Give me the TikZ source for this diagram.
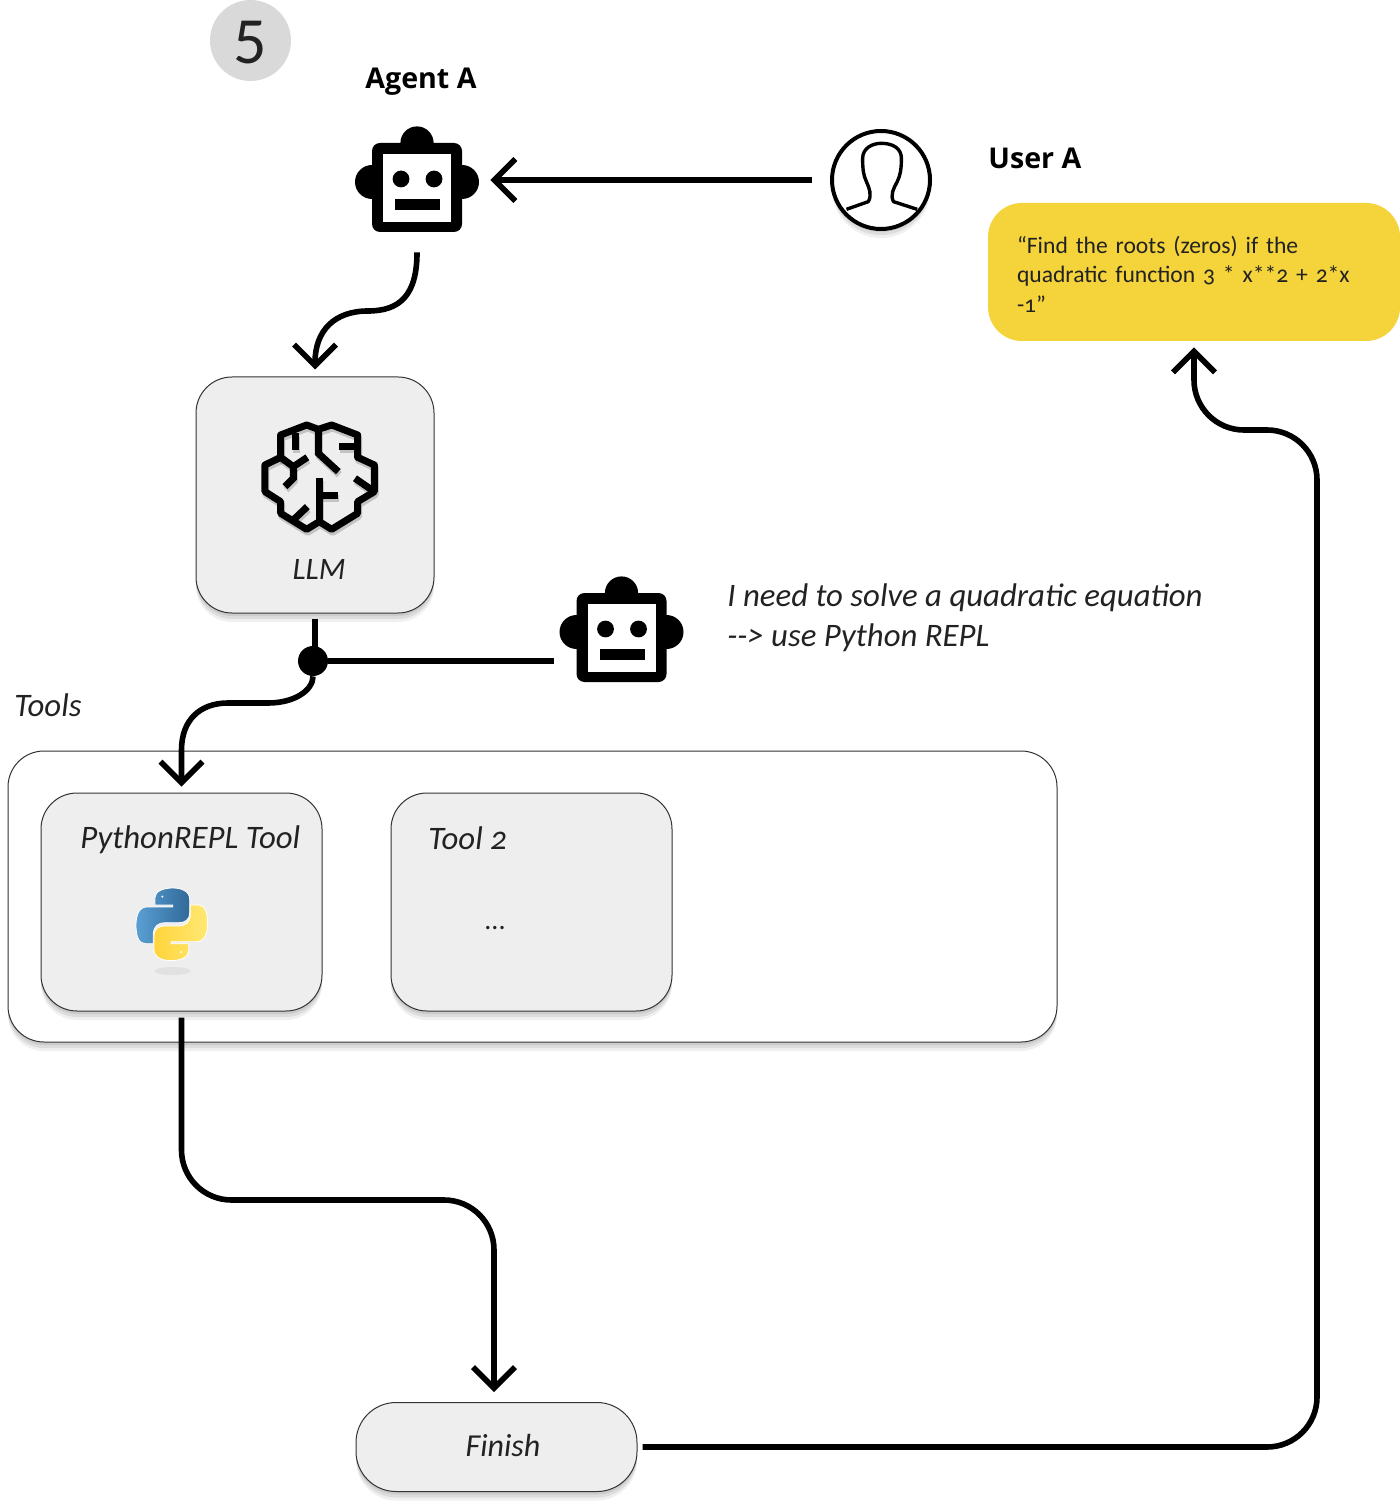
\documentclass[tikz,border=0pt]{standalone}
\usepackage{fontspec}
\setmainfont[Numbers=OldStyle]{Carlito}
\newfontfamily\headfont{Open Sans}
\usetikzlibrary{arrows.meta,shadows}
\definecolor{boxgray}{HTML}{EEEEEE}
\definecolor{badgegray}{HTML}{D9D9D9}
\definecolor{noteyellow}{HTML}{F4D33B}
\definecolor{lightink}{HTML}{222222}
\definecolor{pyblueA}{HTML}{5A9FD4}
\definecolor{pyblueB}{HTML}{306998}
\definecolor{pyyellowA}{HTML}{FFD43B}
\definecolor{pyyellowB}{HTML}{FFE873}
\tikzset{
    softshadow/.style={general shadow={fill=black,opacity=.08,shadow yshift=-1.5pt},general shadow={fill=black,opacity=.08,shadow yshift=-3pt},general shadow={fill=black,opacity=.06,shadow yshift=-4.5pt}},
    toolbox/.style={draw=black!80,line width=.5pt,fill=boxgray,rounded corners=18pt,minimum width=140.5pt,minimum height=109pt,inner sep=0pt,softshadow},
    robotbox/.style={minimum width=73pt,minimum height=71pt,inner sep=0pt},
    heading/.style={font=\headfont\bfseries\fontsize{14.3}{17}\selectfont,anchor=west,inner sep=0pt},
    note/.style={font=\itshape\fontsize{16.4}{20}\selectfont,text=lightink,anchor=west,inner sep=0pt},
    flow/.style={line width=2.8pt},
    arrowline/.style={flow,-{Straight Barb[length=10.5pt,width=21pt]}},
    robot/.pic={
        \fill (0,-38) circle (8.3pt);
        \fill (-45,1) circle (8.5pt);
        \fill (45,1) circle (8.5pt);
        \fill[rounded corners=4pt] (-45,-38) rectangle (45,51);
        \fill[white] (-34,-27) rectangle (34,41);
        \fill (-16,-2) circle (4.2pt);
        \fill (17,-2) circle (4.2pt);
        \fill (-22,18) rectangle (23,29);
    },
}
\newcommand{\brainlines}{
    \draw[line join=round] (385,178) -- (350,165) -- (272,195) -- (272,262) -- (225,285) -- (225,365) -- (272,395) -- (272,430) -- (350,478) -- (388,455) -- (425,478) -- (503,430) -- (503,395) -- (553,365) -- (553,285) -- (503,262) -- (503,195) -- (425,165) -- cycle;
    \draw (385,178) -- (385,250) -- (445,305);
    \draw (388,325) -- (388,455);
    \draw (388,378) -- (445,378);
    \draw (318,190) -- (318,240);
    \draw (272,262) -- (310,290) -- (352,262);
    \draw (310,290) -- (310,325) -- (285,350);
    \draw (448,230) -- (503,230);
    \draw (495,325) -- (553,365);
    \draw (352,410) -- (310,450);
}
\newcommand{\snakepath}{(165,135) -- (165,112) .. controls (165,92) and (195,84) .. (218,84) .. controls (245,84) and (269,94) .. (269,118) -- (269,160) .. controls (269,178) and (255,188) .. (238,188) -- (195,188) .. controls (175,188) and (160,200) .. (160,220) -- (160,251) -- (135,251) .. controls (115,251) and (108,225) .. (108,195) .. controls (108,165) and (118,141) .. (140,141) -- (218,141) -- (218,135) -- cycle}
\begin{document}
\begin{tikzpicture}[x=0.5pt,y=-0.5pt]
    \useasboundingbox (0,0) rectangle (1400,1507);
    \node[circle,fill=badgegray,minimum size=40.5pt,inner sep=0pt] (badge) at (250.5,40.5) {};
    \node[font=\fontsize{33}{33}\selectfont\addfontfeature{Numbers=Lining},text=lightink,inner sep=0pt] (badgeNum) at (250.5,42.5) {5};
    \node[heading] (agentLabel) at (365,82) {Agent A};
    \node[heading] (userLabel) at (988,158) {User A};
    \node[robotbox] (agentA) at (417,181) {};
    \pic at (agentA) {robot};
    \node[circle,draw,line width=2pt,fill=white,minimum size=49pt,inner sep=0pt,softshadow] (userA) at (881,180) {};
    \begin{scope}[shift={(810,110)},xscale=0.376,yscale=0.3333,line width=1.7pt,line join=round]
        \draw (97,298) -- (155,275) .. controls (165,255) and (158,235) .. (150,215) .. controls (142,195) and (140,180) .. (140,145) .. controls (140,115) and (165,100) .. (190,100) .. controls (220,100) and (243,115) .. (243,145) .. controls (243,180) and (240,195) .. (232,215) .. controls (222,235) and (213,255) .. (222,275) -- (285,298);
    \end{scope}
    \node[fill=noteyellow,rounded corners=17pt,minimum width=206pt,minimum height=69pt,inner sep=0pt] (userMsg) at (1194,272) {};
    \node[text width=177pt,align=left,inner sep=0pt,font=\fontsize{11.8}{14.75}\selectfont,text=lightink] (userText) at (1194,274) {“Find the roots (zeros) if the\\quadratic function 3 * x**2 + 2*x\\-1”};
    \node[toolbox,minimum width=119pt,minimum height=118pt] (llm) at (315,495) {};
    \begin{scope}[shift={(190,370)},scale=0.3333,line width=3.5pt]
        \begin{scope}[shift={(3,9)},black,opacity=.18]
            \brainlines
        \end{scope}
        \brainlines
    \end{scope}
    \node[font=\itshape\fontsize{15.6}{20}\selectfont,text=lightink,inner sep=0pt] (llmLabel) at (319,569) {LLM};
    \node[circle,fill=black,minimum size=15pt,inner sep=0pt] (junction) at (313,661) {};
    \node[robotbox,minimum width=67.5pt] (agentB) at (621.5,631) {};
    \pic at (agentB) {robot};
    \node[note] (thought1) at (727,598) {I need to solve a quadratic equation};
    \node[note] (thought2) at (727,638) {-{}-> use Python REPL};
    \node[note] (toolsLabel) at (14,705) {Tools};
    \node[draw=black!80,line width=.5pt,fill=white,rounded corners=18pt,minimum width=524.5pt,minimum height=145.5pt,inner sep=0pt,softshadow] (toolsBox) at (532.5,896.5) {};
    \node[toolbox] (pyTool) at (181.5,902) {};
    \node[toolbox] (toolTwo) at (531.5,902) {};
    \node[note] (pyLabel) at (80,840) {PythonREPL Tool};
    \node[note] (twoLabel) at (428,838) {Tool 2};
    \node[font=\fontsize{14}{16}\selectfont,text=lightink,inner sep=0pt] (dots) at (495,928) {...};
    \fill[black,opacity=.05] (172.5,971) ellipse (9pt and 2pt);
    \begin{scope}[shift={(100,860)},scale=0.3333]
        \draw[white,line width=.4pt,left color=pyblueA,right color=pyblueB] \snakepath;
        \fill[white] (187,110) circle (1.7pt);
        \begin{scope}[shift={(431,386)},rotate=180]
            \draw[white,line width=.4pt,left color=pyyellowA,right color=pyyellowB] \snakepath;
            \fill[white] (187,110) circle (1.7pt);
        \end{scope}
    \end{scope}
    \node[toolbox,minimum width=140.5pt,minimum height=44.5pt,rounded corners=20pt] (finish) at (496.5,1447) {};
    \node[font=\itshape\fontsize{16}{20}\selectfont,text=lightink,inner sep=0pt] (finishLabel) at (503,1445) {Finish};
    \coordinate (finishIn) at (494,1392);
    \draw[arrowline,shorten <=9pt] (userA.west) -- (userA.west -| agentA.east);
    \draw[arrowline,shorten >=3.5pt] (agentA.south) .. controls (417,295) and (400,311) .. (368,311) .. controls (335,311) and (315,330) .. (llm.north);
    \draw[flow,shorten <=2.5pt] (llm.south) -- (llm.south |- junction);
    \draw[flow] (junction) -- (junction -| agentB.west);
    \draw[arrowline,shorten >=3pt] (junction) .. controls (313,690) and (295,703) .. (268,703) -- (228,703) .. controls (200,703) and (181.5,720) .. (181.5,750) -- (pyTool.north);
    \draw[arrowline,rounded corners=25pt,shorten <=3pt] (pyTool.south) -- (181.5,1200) -- (494,1200) -- (finishIn);
    \draw[arrowline,rounded corners=25pt,shorten <=2.5pt,shorten >=3pt] (finish.east) -- (1317,1447) -- (1317,430) -- (1194,430) -- (userMsg.south);
\end{tikzpicture}
\end{document}
